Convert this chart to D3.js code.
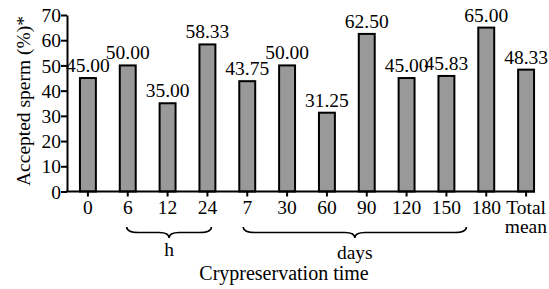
<!DOCTYPE html>
<html>
<head>
<meta charset="utf-8">
<script src="https://cdn.jsdelivr.net/npm/d3@7"></script>
<style>
  body { margin: 0; background: #fff; }
  text { font-family: "Liberation Serif", "Times New Roman", serif; fill: #000; }
</style>
</head>
<body>
<svg id="chart" width="549" height="289"></svg>
<script>
var categories = ["0", "6", "12", "24", "7", "30", "60", "90", "120", "150", "180", "Total"];
var values = [45.00, 50.00, 35.00, 58.33, 43.75, 50.00, 31.25, 62.50, 45.00, 45.83, 65.00, 48.33];
var yTicks = [0, 10, 20, 30, 40, 50, 60, 70];
var groups = [
  { label: "h", from: "6", to: "24" },
  { label: "days", from: "7", to: "150" }
];

var fs = 19.5;
var svg = d3.select("#chart");

var x = d3.scaleBand()
  .domain(categories)
  .range([68, 546])
  .paddingInner(0.6)
  .paddingOuter(0.3);

var y = d3.scaleLinear()
  .domain([0, 70])
  .range([191.5, 15]);

// bars
svg.selectAll("rect.bar")
  .data(values)
  .enter().append("rect")
  .attr("class", "bar")
  .attr("x", function(d, i) { return x(categories[i]); })
  .attr("y", function(d) { return y(d); })
  .attr("width", x.bandwidth())
  .attr("height", function(d) { return y(0) - y(d); })
  .attr("fill", "#999")
  .attr("stroke", "#000")
  .attr("stroke-width", 2);

// value labels
svg.selectAll("text.val")
  .data(values)
  .enter().append("text")
  .attr("class", "val")
  .attr("x", function(d, i) { return x(categories[i]) + x.bandwidth() / 2; })
  .attr("y", function(d) { return y(d) - 6; })
  .attr("text-anchor", "middle")
  .attr("font-size", fs)
  .text(function(d) { return d.toFixed(2); });

// y axis
var yAxis = svg.append("g").attr("transform", "translate(67,0)")
  .call(d3.axisLeft(y).tickValues(yTicks).tickSize(6).tickSizeOuter(0));
yAxis.attr("font-family", "Liberation Serif, serif").attr("font-size", fs);
yAxis.select(".domain").attr("stroke-width", 2);
yAxis.selectAll(".tick line").attr("stroke-width", 2);
yAxis.selectAll(".tick text")
  .attr("x", -6)
  .attr("dy", "0.34em");

// x axis
svg.append("line")
  .attr("x1", 66).attr("x2", 535)
  .attr("y1", y(0)).attr("y2", y(0))
  .attr("stroke", "#000").attr("stroke-width", 2);

svg.selectAll("line.xt")
  .data(categories)
  .enter().append("line")
  .attr("class", "xt")
  .attr("x1", function(d) { return x(d) + x.bandwidth() / 2; })
  .attr("x2", function(d) { return x(d) + x.bandwidth() / 2; })
  .attr("y1", y(0)).attr("y2", y(0) + 5)
  .attr("stroke", "#000").attr("stroke-width", 2);

svg.selectAll("text.xl")
  .data(categories)
  .enter().append("text")
  .attr("class", "xl")
  .attr("x", function(d) { return x(d) + x.bandwidth() / 2; })
  .attr("y", 214)
  .attr("text-anchor", "middle")
  .attr("font-size", fs)
  .text(function(d) { return d; });

svg.append("text")
  .attr("x", 547)
  .attr("y", 233)
  .attr("text-anchor", "end")
  .attr("font-size", fs)
  .text("mean");

// braces
function brace(x1, x2, yTop, h) {
  var m = (x1 + x2) / 2;
  var q = h / 2;
  return "M" + x1 + "," + yTop +
    " Q" + x1 + "," + (yTop + q) + " " + (x1 + 12) + "," + (yTop + q) +
    " L" + (m - 10) + "," + (yTop + q) +
    " Q" + m + "," + (yTop + q) + " " + m + "," + (yTop + h) +
    " Q" + m + "," + (yTop + q) + " " + (m + 10) + "," + (yTop + q) +
    " L" + (x2 - 12) + "," + (yTop + q) +
    " Q" + x2 + "," + (yTop + q) + " " + x2 + "," + yTop;
}

groups.forEach(function(g) {
  var x1 = x(g.from) + x.bandwidth() / 2 - 1;
  var x2 = x(g.to) + x.bandwidth() / 2 + 4;
  if (g.label === "days") { x1 -= 3; x2 += 16; }
  svg.append("path")
    .attr("d", brace(x1, x2, 227, 11))
    .attr("fill", "none")
    .attr("stroke", "#000")
    .attr("stroke-width", 1.6);
  svg.append("text")
    .attr("x", (x1 + x2) / 2)
    .attr("y", g.label === "h" ? 256 : 259)
    .attr("text-anchor", "middle")
    .attr("font-size", fs)
    .text(g.label);
});

// axis titles
svg.append("text")
  .attr("x", 284)
  .attr("y", 280)
  .attr("text-anchor", "middle")
  .attr("font-size", 20)
  .text("Crypreservation time");

svg.append("text")
  .attr("transform", "translate(30,101) rotate(-90)")
  .attr("text-anchor", "middle")
  .attr("font-size", 19.5)
  .text("Accepted sperm (%)*");
</script>
</body>
</html>
